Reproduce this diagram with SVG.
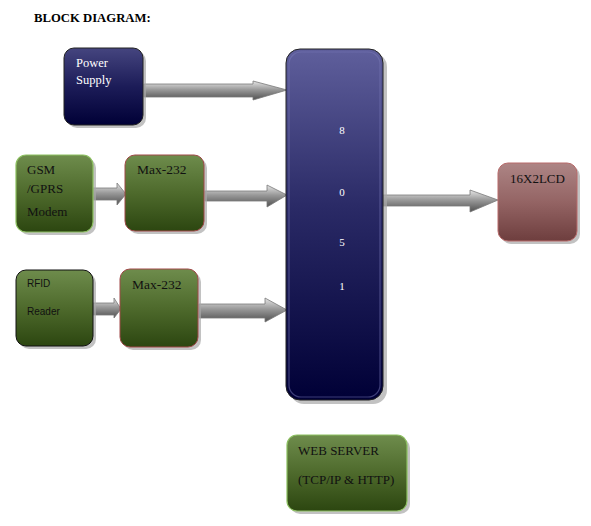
<svg xmlns="http://www.w3.org/2000/svg" width="591" height="526" viewBox="0 0 591 526">
<defs>
<linearGradient id="gBlue" x1="0" y1="0" x2="0" y2="1"><stop offset="0" stop-color="#45457f"/><stop offset="0.5" stop-color="#1c1c58"/><stop offset="1" stop-color="#000036"/></linearGradient>
<linearGradient id="gMcu" x1="0" y1="0" x2="0" y2="1"><stop offset="0" stop-color="#5f5f9c"/><stop offset="0.45" stop-color="#2a2a66"/><stop offset="1" stop-color="#000036"/></linearGradient>
<linearGradient id="gGreen" x1="0" y1="0" x2="0" y2="1"><stop offset="0" stop-color="#6e8c4c"/><stop offset="0.5" stop-color="#4e6a2c"/><stop offset="1" stop-color="#2c4610"/></linearGradient>
<linearGradient id="gRed" x1="0" y1="0" x2="0" y2="1"><stop offset="0" stop-color="#ad8585"/><stop offset="0.5" stop-color="#946464"/><stop offset="1" stop-color="#6e3e3e"/></linearGradient>
<linearGradient id="gArrow" x1="0" y1="0" x2="0" y2="1"><stop offset="0" stop-color="#e6e6e6"/><stop offset="0.45" stop-color="#9a9a9a"/><stop offset="1" stop-color="#505050"/></linearGradient>
</defs>
<style>
.t{font-family:"Liberation Serif","Times New Roman",serif;font-size:13px;fill:#111}
.w{fill:#fff}
.s{font-family:"Liberation Sans",Arial,sans-serif;font-size:10px;fill:#111}
.sh{fill:#a8a8a8;opacity:0.7}
.arr{fill:url(#gArrow);stroke:#7a7a7a;stroke-width:0.8}
</style>
<text x="34" y="22" class="t" style="font-weight:bold;font-size:12.7px;fill:#000">BLOCK DIAGRAM:</text>

<g id="connectors">
<path class="arr" d="M144,84 L253,84 L253,81 L287,90 L253,100 L253,97 L144,97 Z"/>
<path class="arr" d="M93,188 L117,188 L117,183 L126,194 L117,205 L117,200 L93,200 Z"/>
<path class="arr" d="M205,191 L267,191 L267,185 L287,195 L267,207 L267,201 L205,201 Z"/>
<path class="arr" d="M93,303 L114,303 L114,298 L121,309 L114,318 L114,315 L93,315 Z"/>
<path class="arr" d="M199,304 L265,304 L265,298 L287,310 L265,322 L265,318 L199,318 Z"/>
<path class="arr" d="M383,195 L470,195 L470,190 L498,200 L470,212 L470,206 L383,206 Z"/>
</g>

<g id="power">
<rect class="sh" x="67" y="51" width="79" height="77" rx="10"/>
<rect x="64" y="48" width="79" height="77" rx="10" fill="url(#gBlue)" stroke="#222" stroke-width="1"/>
<text x="76" y="67" class="t w" style="font-size:12.5px">Power</text>
<text x="76" y="84" class="t w" style="font-size:12.5px">Supply</text>
</g>

<g id="mcu">
<rect class="sh" x="290" y="53" width="97" height="351" rx="14"/>
<rect x="286" y="49" width="97" height="351" rx="14" fill="url(#gMcu)" stroke="#222" stroke-width="1"/>
<rect x="289" y="52" width="91" height="345" rx="12" fill="none" stroke="#7a7ab8" stroke-width="1.2" opacity="0.5"/>
<text x="342" y="134" class="t w" text-anchor="middle" style="font-size:11px">8</text>
<text x="342" y="196" class="t w" text-anchor="middle" style="font-size:11px">0</text>
<text x="342" y="246" class="t w" text-anchor="middle" style="font-size:11px">5</text>
<text x="342" y="290" class="t w" text-anchor="middle" style="font-size:11px">1</text>
</g>

<g id="gsm">
<rect class="sh" x="19" y="158" width="77" height="77" rx="10"/>
<rect x="16" y="155" width="77" height="77" rx="10" fill="url(#gGreen)" stroke="#8cc060" stroke-width="1.2"/>
<text x="27" y="174" class="t">GSM</text>
<text x="27" y="193" class="t">/GPRS</text>
<text x="27" y="216" class="t">Modem</text>
</g>

<g id="max1">
<rect class="sh" x="128" y="158" width="79" height="76" rx="10"/>
<rect x="125" y="155" width="79" height="76" rx="10" fill="url(#gGreen)" stroke="#a04848" stroke-width="1"/>
<text x="137" y="174" class="t" style="font-size:13.5px">Max-232</text>
</g>

<g id="rfid">
<rect class="sh" x="19" y="273" width="77" height="76" rx="10"/>
<rect x="16" y="270" width="77" height="76" rx="10" fill="url(#gGreen)" stroke="#111" stroke-width="1"/>
<text x="27" y="287" class="s">RFID</text>
<text x="27" y="315" class="s">Reader</text>
</g>

<g id="max2">
<rect class="sh" x="123" y="272" width="78" height="78" rx="10"/>
<rect x="120" y="269" width="78" height="78" rx="10" fill="url(#gGreen)" stroke="#a04848" stroke-width="1"/>
<text x="132" y="289" class="t" style="font-size:13.5px">Max-232</text>
</g>

<g id="lcd">
<rect class="sh" x="501" y="166" width="79" height="78" rx="10"/>
<rect x="498" y="163" width="79" height="78" rx="10" fill="url(#gRed)" stroke="#b86a6a" stroke-width="1"/>
<text x="510" y="183" class="t">16X2LCD</text>
</g>

<g id="web">
<rect class="sh" x="290" y="438" width="120" height="76" rx="10"/>
<rect x="287" y="435" width="120" height="76" rx="10" fill="url(#gGreen)" stroke="#8cc060" stroke-width="1.2"/>
<text x="298" y="455" class="t">WEB SERVER</text>
<text x="298" y="484" class="t">(TCP/IP &amp; HTTP)</text>
</g>
</svg>
